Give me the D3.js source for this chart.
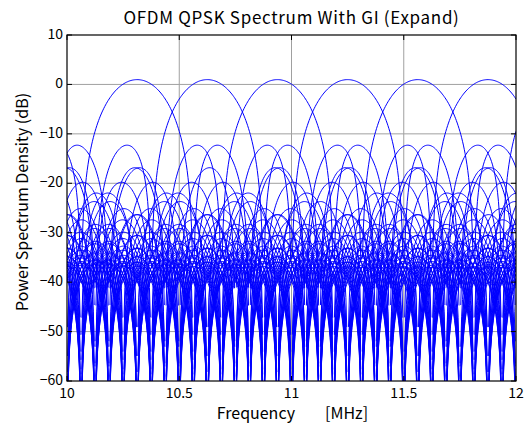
<!DOCTYPE html>
<html>
<head>
<meta charset="utf-8">
<script src="https://cdnjs.cloudflare.com/ajax/libs/d3/7.8.5/d3.min.js"></script>
<style>
  body { margin: 0; background: #fff; }
  text { font-family: "Noto Sans CJK JP", "DejaVu Sans", sans-serif; fill: #000; }
</style>
</head>
<body>
<div id="chart"></div>
<script>
// OFDM subcarriers: 0.3125 MHz spacing around 10 MHz, DC carrier empty
const carrier_idx = [-26, -25, -24, -23, -22, -21, -20, -19, -18, -17, -16, -15, -14,
    -13, -12, -11, -10, -9, -8, -7, -6, -5, -4, -3, -2, -1,
    1, 2, 3, 4, 5, 6, 7, 8, 9, 10, 11, 12, 13,
    14, 15, 16, 17, 18, 19, 20, 21, 22, 23, 24, 25, 26];
const center_mhz = 10;
const spacing_mhz = 0.3125;
const sample_rate_mhz = 20;
const symbol_len = 80;      // samples incl. GI -> lobe nulls every 0.25 MHz
const peak_db = 0.97;
const x_ticks = [10, 10.5, 11, 11.5, 12];
const y_ticks = [10, 0, -10, -20, -30, -40, -50, -60];

const margin = {top: 35, right: 13, bottom: 42, left: 67},
    width = 529 - margin.left - margin.right,
    height = 423 - margin.top - margin.bottom;

const svg = d3.select("#chart").append("svg")
    .attr("width", 529)
    .attr("height", 423);

const plot_g = svg.append("g")
    .attr("transform", `translate(${margin.left},${margin.top})`);

const x = d3.scaleLinear().domain([10, 12]).range([0, width]);
const y = d3.scaleLinear().domain([-60, 10]).range([height, 0]);

// grid
plot_g.append("g").selectAll("line")
    .data(x_ticks.slice(1, -1)).join("line")
    .attr("x1", d => x(d)).attr("x2", d => x(d))
    .attr("y1", 0).attr("y2", height)
    .attr("stroke", "#a0a0a0").attr("stroke-width", 1);
plot_g.append("g").selectAll("line")
    .data(y_ticks.slice(1, -1)).join("line")
    .attr("y1", d => y(d)).attr("y2", d => y(d))
    .attr("x1", 0).attr("x2", width)
    .attr("stroke", "#a0a0a0").attr("stroke-width", 1);

svg.append("clipPath").attr("id", "clip")
    .append("rect").attr("width", width).attr("height", height);

// sampled rectangular pulse spectrum (Dirichlet) per subcarrier; exact nulls break the line
const freqs = d3.range(0, 513).map(i => 10 + i * 0.00390625);
function spectrum(k) {
    const fc = center_mhz + k * spacing_mhz;
    return freqs.map(f => {
        const v = Math.PI * (f - fc) / sample_rate_mhz;
        const den = symbol_len * Math.sin(v);
        const s = Math.abs(den) < 1e-12 ? 1 : Math.sin(symbol_len * v) / den;
        return {f: f, db: peak_db + 10 * Math.log10(s * s + 1e-40)};
    });
}

const line = d3.line()
    .defined(d => d.db > -150)
    .x(d => x(d.f))
    .y(d => y(Math.max(d.db, -120)));

plot_g.append("g")
    .attr("clip-path", "url(#clip)")
    .selectAll("path")
    .data(carrier_idx.map(spectrum))
    .join("path")
    .attr("fill", "none")
    .attr("stroke", "#0000ff")
    .attr("stroke-width", 1)
    .attr("d", line);

// box with inward ticks
plot_g.append("rect")
    .attr("width", width).attr("height", height)
    .attr("fill", "none").attr("stroke", "#000").attr("stroke-width", 1.2);

const tick_len = 5;
x_ticks.forEach(t => {
    plot_g.append("line").attr("x1", x(t)).attr("x2", x(t))
        .attr("y1", height).attr("y2", height - tick_len).attr("stroke", "#000");
    plot_g.append("line").attr("x1", x(t)).attr("x2", x(t))
        .attr("y1", 0).attr("y2", tick_len).attr("stroke", "#000");
    plot_g.append("text")
        .attr("x", x(t)).attr("y", height + 17)
        .attr("text-anchor", "middle")
        .attr("font-size", "14px")
        .text(t);
});
y_ticks.forEach(t => {
    plot_g.append("line").attr("y1", y(t)).attr("y2", y(t))
        .attr("x1", 0).attr("x2", tick_len).attr("stroke", "#000");
    plot_g.append("line").attr("y1", y(t)).attr("y2", y(t))
        .attr("x1", width).attr("x2", width - tick_len).attr("stroke", "#000");
    plot_g.append("text")
        .attr("x", -4).attr("y", y(t) + 4)
        .attr("text-anchor", "end")
        .attr("font-size", "14px")
        .text(t < 0 ? "\u2212" + (-t) : t);
});

// labels
svg.append("text")
    .attr("x", margin.left + width / 2).attr("y", 24)
    .attr("text-anchor", "middle")
    .attr("font-size", "17px")
    .attr("letter-spacing", "0.7px")
    .text("OFDM QPSK Spectrum With GI (Expand)");

const xlab = svg.append("text")
    .attr("y", 419)
    .attr("font-size", "16px");
xlab.append("tspan").attr("x", 295).attr("text-anchor", "end").text("Frequency");
xlab.append("tspan").attr("x", 325).attr("text-anchor", "start").text("[MHz]");

svg.append("text")
    .attr("transform", `translate(28,202) rotate(-90)`)
    .attr("text-anchor", "middle")
    .attr("font-size", "16px")
    .text("Power Spectrum Density (dB)");
</script>
</body>
</html>
